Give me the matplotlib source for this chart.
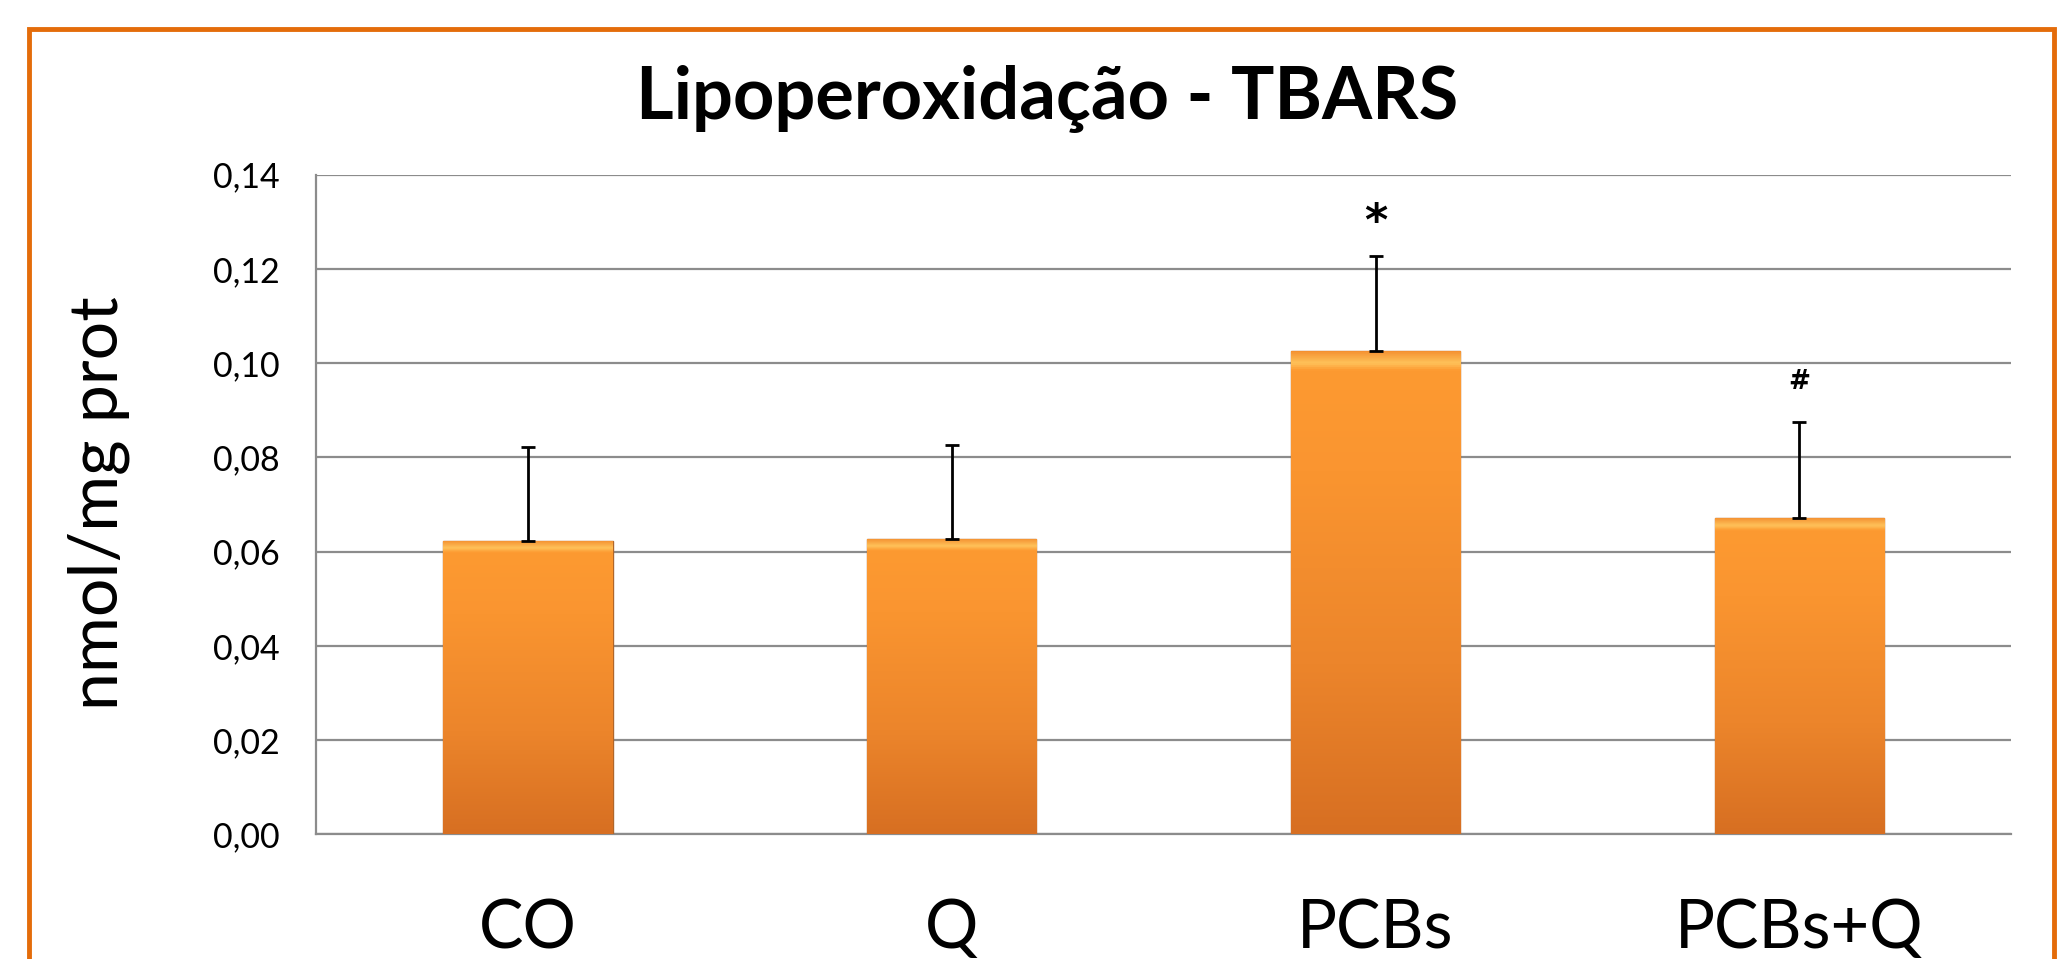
import numpy as np
import matplotlib
matplotlib.use("Agg")
import matplotlib.pyplot as plt
from matplotlib.patches import Rectangle
from matplotlib.colors import LinearSegmentedColormap

plt.rcParams['font.family'] = ['Lato', 'DejaVu Sans']

# data
groups = ['CO', 'Q', 'PCBs', 'PCBs+Q']
means = [0.0622, 0.0627, 0.1025, 0.0672]
errs = [0.0200, 0.0200, 0.0202, 0.0202]
marks = ['', '', '*', '#']
yticks = [0.00, 0.02, 0.04, 0.06, 0.08, 0.10, 0.12, 0.14]

fig = plt.figure(figsize=(20.65, 9.59), dpi=100)
ax = fig.add_axes([0.153, 0.130, 0.821, 0.688])

# orange frame round the chart (runs off the bottom edge)
fig.patches.append(Rectangle((29 / 2065, -0.1), (2054 - 29) / 2065, 1.07,
                             transform=fig.transFigure, fill=False,
                             ec='#E46C0A', lw=3.5, zorder=0))

x = np.arange(len(groups))
bars = ax.bar(x, means, width=0.4, color='#F7923A', edgecolor='#B0662A',
              lw=1.0, zorder=3)

# vertical gradient like the excel bars
cmap = LinearSegmentedColormap.from_list(
    'barfill', [(0.0, '#D76F22'), (0.35, '#EC852B'), (0.75, '#FA9530'),
                (0.96, '#FD9A31'), (0.975, '#FFC25A'), (1.0, '#F49030')])
grad = np.linspace(0, 1, 512).reshape(-1, 1)
for b in bars:
    x0, w, h = b.get_x(), b.get_width(), b.get_height()
    im = ax.imshow(grad, extent=[x0, x0 + w, 0, h], origin='lower',
                   aspect='auto', cmap=cmap, vmin=0, vmax=1, zorder=3.2,
                   interpolation='bilinear')
    im.set_clip_path(b)

ax.errorbar(x, means, yerr=[np.zeros(len(means)), errs], fmt='none',
            ecolor='black', elinewidth=2.0, capsize=5, capthick=2.0, zorder=4)

for xi, m, e, s in zip(x, means, errs, marks):
    if s == '*':
        ax.text(xi, m + e + 0.0072, s, ha='center', va='center',
                fontsize=32, fontweight='bold', family='DejaVu Sans')
    elif s == '#':
        ax.text(xi, m + e + 0.0085, s, ha='center', va='center',
                fontsize=19, fontweight='bold', family='DejaVu Sans')

ax.set_xlim(-0.5, len(groups) - 0.5)
ax.set_ylim(0, 0.14)
ax.set_yticks(yticks)
ax.set_yticklabels([f"{v:.2f}".replace('.', ',') for v in yticks], fontsize=24.5)
ax.set_xticks(x)
ax.set_xticklabels(groups, fontsize=48)
ax.tick_params(axis='y', length=0, pad=26)
ax.tick_params(axis='x', length=0, pad=46)

ax.yaxis.grid(True, color='#8C8C8C', lw=1.6)
ax.set_axisbelow(True)
for side in ['top', 'right']:
    ax.spines[side].set_visible(False)
for side in ['left', 'bottom']:
    ax.spines[side].set_color('#8C8C8C')
    ax.spines[side].set_linewidth(1.6)

fig.text(0.507, 0.897, 'Lipoperoxidação - TBARS', ha='center', va='center',
         fontsize=52, fontweight='bold')
fig.text(99 / 2065, 0.475, 'nmol/mg prot', rotation=90, ha='center',
         va='center', fontsize=49)

plt.savefig('out.png', dpi=100)
